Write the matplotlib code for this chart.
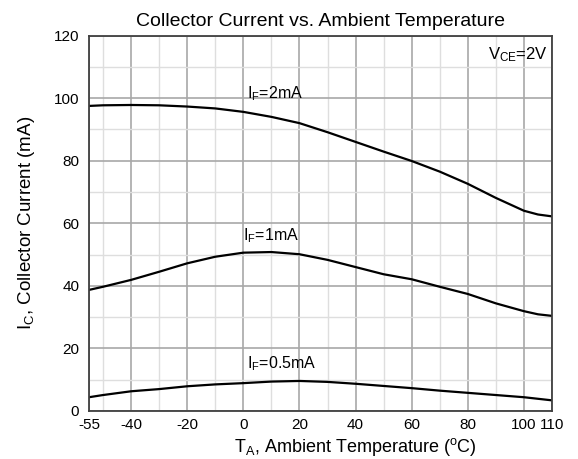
import numpy as np
import matplotlib
matplotlib.use('Agg')
import matplotlib.pyplot as plt
from matplotlib.ticker import MultipleLocator, FixedLocator

plt.rcParams['font.family'] = ['Liberation Sans', 'DejaVu Sans']
plt.rcParams['mathtext.fontset'] = 'custom'
plt.rcParams['mathtext.rm'] = 'Liberation Sans'
plt.rcParams['mathtext.it'] = 'Liberation Sans'
plt.rcParams['axes.unicode_minus'] = False

# temperature (degC)
temp = [-55, -50, -40, -30, -20, -10, 0, 10, 20, 30, 40, 50, 60, 70, 80, 90, 100, 105, 110]
# collector current (mA) per forward current
ic_2ma = [97.5, 97.7, 97.8, 97.7, 97.3, 96.7, 95.6, 94.0, 92.0, 89.1, 86.0, 82.9,
          79.9, 76.5, 72.6, 68.1, 64.0, 62.8, 62.2]
ic_1ma = [38.7, 39.7, 41.9, 44.5, 47.2, 49.3, 50.6, 50.8, 50.1, 48.3, 46.0, 43.7,
          42.1, 39.7, 37.4, 34.4, 31.9, 30.9, 30.4]
ic_05ma = [4.4, 5.1, 6.3, 7.0, 7.9, 8.5, 8.9, 9.4, 9.6, 9.3, 8.7, 8.0,
           7.3, 6.5, 5.8, 5.1, 4.4, 3.9, 3.4]

xticks = [-55, -40, -20, 0, 20, 40, 60, 80, 100, 110]
yticks = [0, 20, 40, 60, 80, 100, 120]

fig = plt.figure(figsize=(5.78, 4.59), dpi=100)
ax = fig.add_axes([0.154, 0.1046, 0.801, 0.818])

ax.set_xlim(-55, 110)
ax.set_ylim(0, 120)

# grid: dark at labelled ticks, light in between
ax.xaxis.set_major_locator(FixedLocator(xticks))
ax.yaxis.set_major_locator(FixedLocator(yticks))
ax.xaxis.set_minor_locator(FixedLocator(list(range(-50, 110, 10))))
ax.yaxis.set_minor_locator(MultipleLocator(10))
ax.grid(which='minor', color='#dedede', lw=1.0)
ax.grid(which='major', color='#a8a8a8', lw=1.2)
ax.set_axisbelow(True)
ax.tick_params(which='both', length=0, labelsize=11)
ax.tick_params(axis='x', pad=5)
ax.tick_params(axis='y', pad=7)

for sp in ax.spines.values():
    sp.set_color('#404040')
    sp.set_linewidth(1.3)

for ys in (ic_2ma, ic_1ma, ic_05ma):
    ax.plot(temp, ys, color='black', lw=1.6)

ax.text(1.4, 101.3, r'I$_\mathregular{F}$=2mA', fontsize=11.5, va='center')
ax.text(0, 56, r'I$_\mathregular{F}$=1mA', fontsize=11.5, va='center')
ax.text(1.4, 15, r'I$_\mathregular{F}$=0.5mA', fontsize=11.5, va='center')
ax.text(108.5, 114, r'V$_\mathregular{CE}$=2V', fontsize=12, va='center', ha='right')

ax.set_title('Collector Current vs. Ambient Temperature', fontsize=14, pad=7)
ax.set_xlabel(r'T$_\mathregular{A}$, Ambient Temperature ($^\mathregular{o}$C)', fontsize=13, labelpad=1)
ax.xaxis.set_label_coords(0.575, -0.066)
ax.set_ylabel(r'I$_\mathregular{C}$, Collector Current (mA)', fontsize=13.5, labelpad=12)

fig.savefig('out.png', dpi=100)
